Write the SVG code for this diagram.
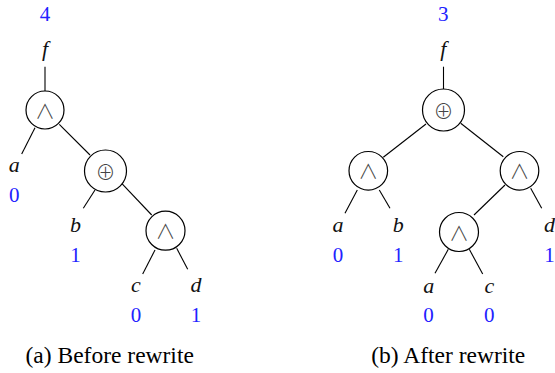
<svg xmlns="http://www.w3.org/2000/svg" width="555" height="373" viewBox="0 0 555 373">
  <style>
    .op { fill: #fff; stroke: #000; stroke-width: 1.2; }
    .sym { font-family: "Noto Sans CJK SC", "DejaVu Sans", sans-serif; font-weight: 300; fill: #444; text-anchor: middle; dominant-baseline: central; }
    .and { font-size: 20px; }
    .xor { font-size: 20px; }
    .var { font-family: "Liberation Serif", "Times New Roman", serif; font-style: italic; font-size: 22px; fill: #111; text-anchor: middle; }
    .num { font-family: "Liberation Serif", "Times New Roman", serif; font-size: 21px; fill: #2222ff; text-anchor: middle; }
    .cap { font-family: "Liberation Serif", "Times New Roman", serif; font-size: 23.5px; fill: #000; text-anchor: middle; }
    .edge { stroke: #000; stroke-width: 1.1; fill: none; }
  </style>

  <!-- edges -->
  <g id="connectors">
    <!-- left tree -->
    <line class="edge" x1="45" y1="66.7" x2="45" y2="91"/>
    <line class="edge" x1="35" y1="127.7" x2="21.7" y2="154"/>
    <line class="edge" x1="59.3" y1="124.3" x2="90" y2="155"/>
    <line class="edge" x1="95" y1="190" x2="83.3" y2="208.3"/>
    <line class="edge" x1="121.7" y1="183.3" x2="151.7" y2="215"/>
    <line class="edge" x1="155" y1="250" x2="142.7" y2="274"/>
    <line class="edge" x1="176.7" y1="248.3" x2="187.7" y2="269.3"/>
    <!-- right tree -->
    <line class="edge" x1="443.5" y1="66.7" x2="443.5" y2="89"/>
    <line class="edge" x1="426" y1="124" x2="383.3" y2="157.3"/>
    <line class="edge" x1="460.7" y1="123.3" x2="503.3" y2="156.7"/>
    <line class="edge" x1="357.3" y1="190" x2="345" y2="213.3"/>
    <line class="edge" x1="379.3" y1="190" x2="390" y2="208.3"/>
    <line class="edge" x1="505" y1="185" x2="474" y2="215"/>
    <line class="edge" x1="530.7" y1="188.3" x2="541.7" y2="208.3"/>
    <line class="edge" x1="448.3" y1="249.3" x2="435" y2="273.3"/>
    <line class="edge" x1="469.3" y1="249.3" x2="482.7" y2="274"/>
  </g>

  <!-- (a) before rewrite -->
  <g id="a-root-out">
    <text class="num" x="45" y="20.7">4</text>
    <text class="var" x="45" y="56">f</text>
  </g>
  <g id="a-and1">
    <circle class="op" cx="45" cy="110" r="19"/>
    <text class="sym and" x="45" y="110">∧</text>
  </g>
  <g id="a-leaf-a">
    <text class="var" x="14.3" y="171.7">a</text>
    <text class="num" x="14.3" y="201.7">0</text>
  </g>
  <g id="a-xor">
    <circle class="op" cx="105.5" cy="171" r="21"/>
    <text class="sym xor" x="105.5" y="171">⊕</text>
  </g>
  <g id="a-leaf-b">
    <text class="var" x="75.5" y="231.7">b</text>
    <text class="num" x="75.5" y="261.7">1</text>
  </g>
  <g id="a-and2">
    <circle class="op" cx="165.5" cy="230.7" r="19.5"/>
    <text class="sym and" x="165.5" y="230.7">∧</text>
  </g>
  <g id="a-leaf-c">
    <text class="var" x="136" y="292">c</text>
    <text class="num" x="136" y="321.7">0</text>
  </g>
  <g id="a-leaf-d">
    <text class="var" x="196" y="291.7">d</text>
    <text class="num" x="196" y="321.7">1</text>
  </g>
  <text class="cap" x="109.7" y="363">(a) Before rewrite</text>

  <!-- (b) after rewrite -->
  <g id="b-root-out">
    <text class="num" x="443.3" y="20.7">3</text>
    <text class="var" x="443.3" y="56">f</text>
  </g>
  <g id="b-xor">
    <circle class="op" cx="443.5" cy="110" r="21"/>
    <text class="sym xor" x="443.5" y="110">⊕</text>
  </g>
  <g id="b-and-left">
    <circle class="op" cx="368.3" cy="170.8" r="19.3"/>
    <text class="sym and" x="368.3" y="170.8">∧</text>
  </g>
  <g id="b-and-right">
    <circle class="op" cx="519.5" cy="170.8" r="19.3"/>
    <text class="sym and" x="519.5" y="170.8">∧</text>
  </g>
  <g id="b-leaf-a1">
    <text class="var" x="338" y="231.7">a</text>
    <text class="num" x="338" y="261.7">0</text>
  </g>
  <g id="b-leaf-b">
    <text class="var" x="398.3" y="231.7">b</text>
    <text class="num" x="398.3" y="261.7">1</text>
  </g>
  <g id="b-and-low">
    <circle class="op" cx="459" cy="232" r="19.5"/>
    <text class="sym and" x="459" y="232">∧</text>
  </g>
  <g id="b-leaf-d">
    <text class="var" x="549.5" y="231.7">d</text>
    <text class="num" x="549.5" y="261.7">1</text>
  </g>
  <g id="b-leaf-a2">
    <text class="var" x="428.7" y="293">a</text>
    <text class="num" x="428.5" y="321.7">0</text>
  </g>
  <g id="b-leaf-c">
    <text class="var" x="489.3" y="293">c</text>
    <text class="num" x="489.3" y="321.7">0</text>
  </g>
  <text class="cap" x="448.3" y="363">(b) After rewrite</text>
</svg>
